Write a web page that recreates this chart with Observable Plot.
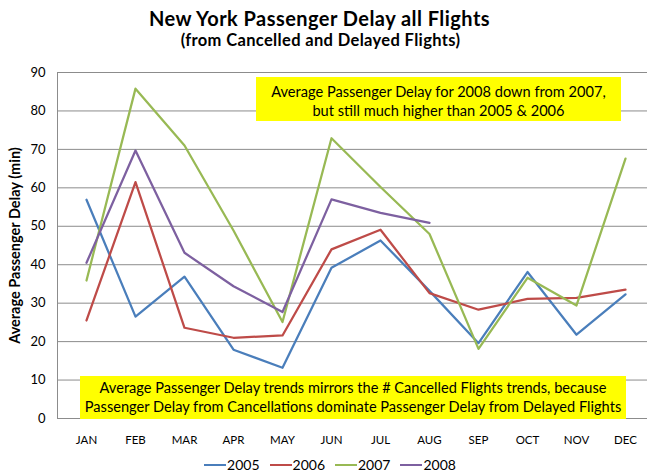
<!DOCTYPE html>
<html>
<head>
<meta charset="utf-8">
<script src="https://cdn.jsdelivr.net/npm/d3@7"></script>
<script src="https://cdn.jsdelivr.net/npm/@observablehq/plot@0.6"></script>
<style>
  html, body { margin: 0; padding: 0; background: #fff; }
  body { width: 647px; height: 476px; position: relative; overflow: hidden; font-family: Lato, "Open Sans", sans-serif; }
  #title { position: absolute; left: 0; top: 0; width: 647px; height: 60px; text-align: center; font-weight: bold; color: #000; }
  #title .t1 { position: absolute; left: -4px; width: 100%; top: 8.3px; font-size: 20px; line-height: 20px; letter-spacing: 0.45px; white-space: nowrap; }
  #title .t2 { position: absolute; left: -3px; width: 100%; top: 31.9px; font-size: 16.5px; line-height: 16.5px; letter-spacing: 0.35px; white-space: nowrap; }
  #chart { position: absolute; left: 0; top: 60px; }
  .note { position: absolute; background: #ffff00; text-align: center; font-size: 14.6px; line-height: 19px; color: #000; box-sizing: border-box; white-space: nowrap; }
  #legend { position: absolute; left: 0; top: 456px; width: 647px; height: 18px; display: flex; justify-content: center; gap: 10px; font-size: 14px; line-height: 18px; padding-left: 13px; box-sizing: border-box; }
  #legend .item { display: flex; align-items: center; }
  #legend .sw { width: 22px; height: 0; border-top: 2.5px solid; margin-right: 1px; }
</style>
</head>
<body>
<div id="title"><div class="t1">New York Passenger Delay all Flights</div><div class="t2">(from Cancelled and Delayed Flights)</div></div>
<div id="chart"></div>
<div class="note" id="n1" style="left:256px; top:77px; width:365px; height:44px; padding-top:4.5px;"></div>
<div class="note" id="n2" style="left:80px; top:376px; width:546px; height:43px; padding-top:2.2px;"></div>
<div id="legend"></div>
<script>
const months = ["JAN","FEB","MAR","APR","MAY","JUN","JUL","AUG","SEP","OCT","NOV","DEC"];
const years = ["2005","2006","2007","2008"];
const colors = ["#4A7EBB","#BE4B48","#98B954","#7D60A0"];
const y2005 = [56.9, 26.5, 36.9, 17.9, 13.2, 39.2, 46.3, 33.2, 19.6, 38.1, 21.8, 32.3];
const y2006 = [25.5, 61.5, 23.6, 21.0, 21.6, 44.0, 49.1, 32.6, 28.3, 31.1, 31.4, 33.5];
const y2007 = [35.9, 85.8, 71.0, 48.9, 25.1, 72.9, 60.2, 48.0, 18.1, 36.6, 29.4, 67.6];
const y2008 = [40.5, 69.7, 43.1, 34.4, 27.7, 57.0, 53.5, 50.9];
const yTicks = [0,10,20,30,40,50,60,70,80,90];
const yLabel = "Average Passenger Delay (min)";
const note1 = ["Average Passenger Delay for 2008 down from 2007,", "but still much higher than 2005 & 2006"];
const note2 = ["Average Passenger Delay trends mirrors the # Cancelled Flights trends, because", "Passenger Delay from Cancellations dominate Passenger Delay from Delayed Flights"];

const series = [y2005, y2006, y2007, y2008];
const rows = [];
series.forEach((vals, i) => vals.forEach((v, j) => rows.push({year: years[i], month: months[j], value: v})));

const chart = Plot.plot({
  width: 647,
  height: 400,
  marginLeft: 57,
  marginRight: 0,
  marginTop: 12,
  marginBottom: 42,
  style: {fontFamily: "Lato, 'Open Sans', sans-serif", background: "#fff", color: "#000"},
  x: {type: "point", domain: months, range: [82, 628], padding: 0},
  y: {domain: [0, 90]},
  color: {domain: years, range: colors},
  marks: [
    Plot.gridY(yTicks, {stroke: "#8c8c8c", strokeOpacity: 1}),
    Plot.frame({anchor: "left", stroke: "#8c8c8c"}),
    Plot.axisY(yTicks, {tickSize: 0, tickPadding: 12, fontSize: 13, label: null}),
    Plot.axisX(months, {tickSize: 0, tickPadding: 17, fontSize: 11.5, label: null}),
    Plot.text([yLabel], {frameAnchor: "left", dx: -42, rotate: -90, textAnchor: "middle", fontWeight: "bold", fontSize: 14.5, text: d => d}),
    Plot.lineY(rows, {x: "month", y: "value", stroke: "year", z: "year", strokeWidth: 2.25, curve: "linear"})
  ]
});
document.getElementById("chart").appendChild(chart);

document.getElementById("n1").innerHTML = note1.join("<br>");
document.getElementById("n2").innerHTML = note2.join("<br>");

const lg = document.getElementById("legend");
years.forEach((y, i) => {
  const it = document.createElement("div");
  it.className = "item";
  it.innerHTML = `<span class="sw" style="border-color:${colors[i]}"></span><span>${y}</span>`;
  lg.appendChild(it);
});
</script>
</body>
</html>
